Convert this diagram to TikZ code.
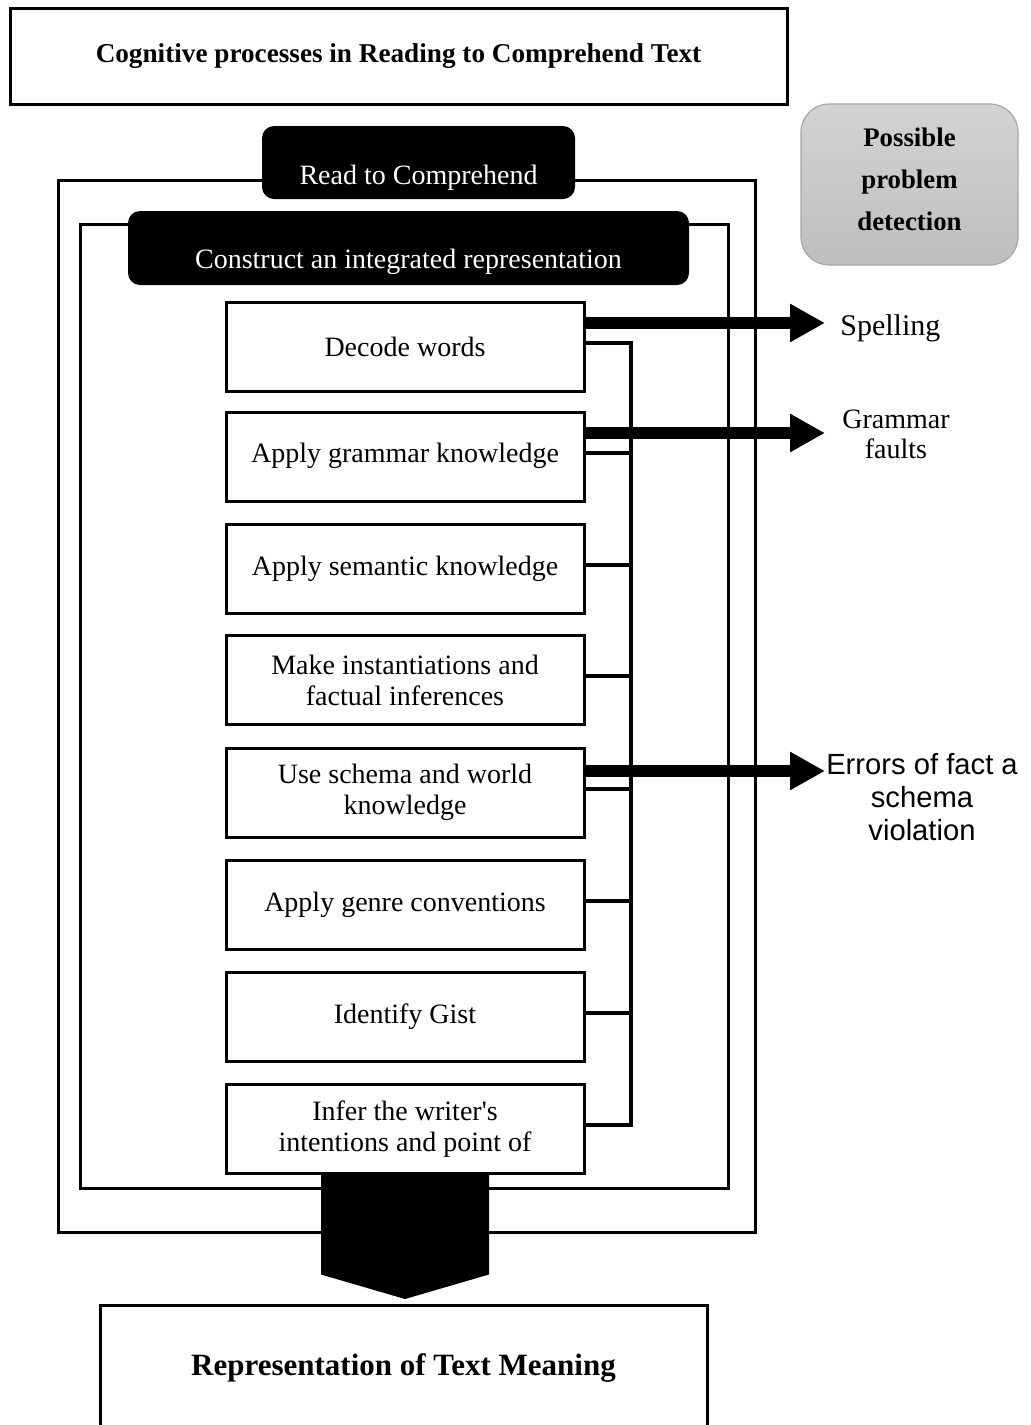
\documentclass[tikz,border=0pt]{standalone}
\usepackage{fontspec}
\setmainfont{Liberation Serif}
\newfontfamily\notesans{Liberation Sans}
\usetikzlibrary{arrows.meta,calc}
\definecolor{detecttop}{HTML}{D3D3D3}
\definecolor{detectbot}{HTML}{BEBEBE}
\definecolor{detectrim}{HTML}{A6A6A6}
\begin{document}
\begin{tikzpicture}[x=0.5pt,y=-0.5pt,
  frame/.style={draw=black, line width=1.5pt, inner sep=0pt, outer sep=0pt},
  stepbox/.style={draw=black, line width=1.5pt, fill=white, minimum width=179pt,
    minimum height=44.5pt, align=center, inner sep=0pt, outer sep=0pt,
    font=\fontsize{14}{15.5}\selectfont},
  tabbox/.style={fill=black, rounded corners=6pt, inner sep=0pt, outer sep=0pt},
  tabtext/.style={text=white, anchor=base, inner sep=0pt, font=\fontsize{14}{16}\selectfont},
  bracket/.style={line width=2pt},
  flag/.style={line width=6pt, -{Triangle[length=17.5pt,width=18pt]}},
  note/.style={align=center, inner sep=0pt},
]
\useasboundingbox (0,0) rectangle (1031,1425);
\clip (0,0) rectangle (1031,1425);

% heading
\node[frame, minimum width=388.5pt, minimum height=48pt,
      font=\bfseries\fontsize{13.6}{15}\selectfont] (title) at (398.5,56)
  {Cognitive processes in Reading to Comprehend Text};

% side panel
\node[draw=detectrim, line width=0.6pt, rounded corners=14pt, top color=detecttop,
      bottom color=detectbot, minimum width=108.5pt, minimum height=80.5pt] (detect)
  at (909.5,184.5) {};
\node[note, font=\bfseries\fontsize{13.4}{21}\selectfont] (detectlbl) at (909.5,179)
  {Possible\\problem\\detection};

% nested frames with their tabs
\node[frame, minimum width=348.5pt, minimum height=526pt] (outer) at (406.5,706) {};
\node[tabbox, minimum width=156.5pt, minimum height=36.5pt] (readtab) at (418.5,162.5) {};
\node[tabtext] (readlbl) at (418.5,184) {Read to Comprehend};

\node[frame, minimum width=324pt, minimum height=482pt] (inner) at (404,706) {};
\node[tabbox, minimum width=280.5pt, minimum height=37pt] (buildtab) at (408.5,248) {};
\node[tabtext] (buildlbl) at (408.5,268) {Construct an integrated representation};

% processing steps
\node[stepbox] (s1) at (405,346.5) {Decode words};
\node[stepbox] (s2) at (405,456.5) {\raisebox{4pt}{Apply grammar knowledge}};
\node[stepbox] (s3) at (405,569) {Apply semantic knowledge};
\node[stepbox] (s4) at (405,680) {Make instantiations and\\factual inferences};
\node[stepbox] (s5) at (405,792.5) {Use schema and world\\knowledge};
\node[stepbox] (s6) at (405,905) {Apply genre conventions};
\node[stepbox] (s7) at (405,1017) {Identify Gist};
\node[stepbox] (s8) at (405,1129) {Infer the writer\textquotesingle s\\intentions and point of};

% bracket joining the steps
\coordinate (bar) at (631,0);
\draw[bracket] ([yshift=2pt]s1.east) -- ([yshift=2pt]s1.east -| bar)
  -- ([yshift=2pt]s8.east -| bar) -- ([yshift=2pt]s8.east);
\foreach \i in {2,...,7}
  \draw[bracket] ([yshift=2pt]s\i.east) -- ([yshift=2pt]s\i.east -| bar);

% detected problems
\coordinate (tipx) at (825,0);
\draw[flag] ([yshift=11.75pt]s1.east) -- ([yshift=11.75pt]s1.east -| tipx);
\draw[flag] ([yshift=11.75pt]s2.east) -- ([yshift=11.75pt]s2.east -| tipx);
\draw[flag] ([yshift=10.75pt]s5.east) -- ([yshift=10.75pt]s5.east -| tipx);

\node[note, anchor=base west, font=\fontsize{15}{15}\selectfont] (spell) at (840,335) {Spelling};
\node[note, font=\fontsize{14}{15}\selectfont] (gram) at (896,434) {Grammar\\faults};
\node[note, font=\notesans\fontsize{14.6}{16.5}\selectfont] (errs) at (922,797)
  {Errors of fact a\\schema\\violation};

% result
\node[frame, minimum width=303.5pt, minimum height=63pt,
      font=\bfseries\fontsize{15.5}{17}\selectfont] (res) at (403.5,1368)
  {Representation of Text Meaning};

% block arrow down to the result
\coordinate (dl) at ([xshift=-42pt]s8.south);
\coordinate (dr) at ([xshift=42pt]s8.south);
\fill[black] (dl) -- (dr) -- ($(dr)+(0,101)$) -- ($(res.north)+(1.5,-6)$)
  -- ($(dl)+(0,101)$) -- cycle;
\end{tikzpicture}
\end{document}
